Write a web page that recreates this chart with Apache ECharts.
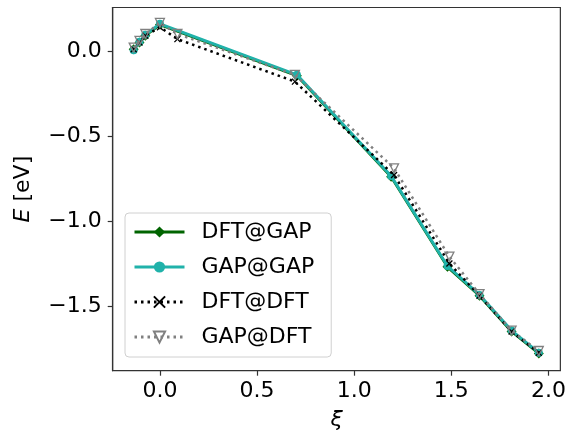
<!DOCTYPE html>
<html>
<head>
<meta charset="utf-8">
<script src="https://cdn.jsdelivr.net/npm/echarts@6/dist/echarts.min.js"></script>
<style>html,body{margin:0;padding:0;background:#fff}#c{width:569px;height:437px}</style>
</head>
<body>
<div id="c"></div>
<script>
const seriesNames = ['DFT@GAP', 'GAP@GAP', 'DFT@DFT', 'GAP@DFT'];
const xGAP = [-0.135, -0.105, -0.075, 0.0, 0.705, 1.19, 1.48, 1.645, 1.81, 1.95];
const yDFTatGAP = [0.01, 0.05, 0.09, 0.155, -0.145, -0.74, -1.27, -1.44, -1.65, -1.78];
const yGAPatGAP = [0.005, 0.055, 0.095, 0.16, -0.14, -0.735, -1.265, -1.435, -1.645, -1.775];
const xDFT = [-0.135, -0.105, -0.075, 0.0, 0.09, 0.695, 1.205, 1.49, 1.645, 1.81, 1.95];
const yDFTatDFT = [0.01, 0.05, 0.09, 0.14, 0.07, -0.18, -0.73, -1.25, -1.44, -1.65, -1.775];
const yGAPatDFT = [0.02, 0.06, 0.10, 0.165, 0.10, -0.14, -0.69, -1.21, -1.43, -1.645, -1.765];
const xTicks = [0, 0.5, 1.0, 1.5, 2.0];
const yTicks = [-1.5, -1.0, -0.5, 0.0];

const zip = (xs, ys) => xs.map((x, i) => [x, ys[i]]);
const fmt = v => (v < 0 ? '\u2212' : '') + Math.abs(v).toFixed(1);
const font = 'DejaVu Sans';
const xPath = 'path://M0,0L10,10M10,0L0,10';

const chart = echarts.init(document.getElementById('c'), null, {renderer: 'canvas'});
chart.setOption({
  animation: false,
  backgroundColor: '#fff',
  grid: {left: 112.7, right: 8, top: 7.5, bottom: 66.3, show: true, borderColor: '#333', borderWidth: 1.2, backgroundColor: 'transparent'},
  xAxis: {
    type: 'value', min: -0.243, max: 2.061,
    name: '\u03be', nameLocation: 'middle', nameGap: 39,
    nameTextStyle: {fontFamily: font, fontSize: 22, fontStyle: 'italic', color: '#000'},
    axisLine: {show: true, onZero: false, lineStyle: {color: '#333', width: 1.2}},
    axisTick: {show: true, length: 5, customValues: xTicks, lineStyle: {color: '#333', width: 1.2}},
    axisLabel: {customValues: xTicks, formatter: fmt, fontFamily: font, fontSize: 22, color: '#000', margin: 10},
    splitLine: {show: false}
  },
  yAxis: {
    type: 'value', min: -1.881, max: 0.256,
    name: '{i|E} [eV]', nameLocation: 'middle', nameGap: 78, nameRotate: 90,
    nameTextStyle: {fontFamily: font, fontSize: 22, color: '#000', rich: {i: {fontFamily: font, fontSize: 22, fontStyle: 'italic', color: '#000'}}},
    axisLine: {show: true, onZero: false, lineStyle: {color: '#333', width: 1.2}},
    axisTick: {show: true, length: 5, customValues: yTicks, lineStyle: {color: '#333', width: 1.2}},
    axisLabel: {customValues: yTicks, formatter: fmt, fontFamily: font, fontSize: 22, color: '#000', margin: 11},
    splitLine: {show: false}
  },
  legend: {
    orient: 'vertical', left: 125, top: 213,
    itemWidth: 50, itemHeight: 14, itemGap: 13,
    padding: [8, 17, 9, 8],
    borderColor: '#d0d0d0', borderWidth: 1, borderRadius: 4,
    backgroundColor: 'rgba(255,255,255,0.85)',
    textStyle: {fontFamily: font, fontSize: 22, lineHeight: 22, color: '#000', padding: [0, 0, 0, 12]},
    data: [
      {name: seriesNames[0], lineStyle: {width: 3}},
      {name: seriesNames[1], lineStyle: {width: 3}},
      {name: seriesNames[2], lineStyle: {width: 3}},
      {name: seriesNames[3], lineStyle: {width: 3}}
    ]
  },
  series: [
    {
      name: seriesNames[0], type: 'line', data: zip(xGAP, yDFTatGAP), z: 2,
      symbol: 'diamond', symbolSize: 10,
      lineStyle: {color: '#006400', width: 2.8},
      itemStyle: {color: '#006400'}
    },
    {
      name: seriesNames[1], type: 'line', data: zip(xGAP, yGAPatGAP), z: 3,
      symbol: 'circle', symbolSize: 8,
      lineStyle: {color: '#20b2aa', width: 3},
      itemStyle: {color: '#20b2aa'}
    },
    {
      name: seriesNames[2], type: 'line', data: zip(xDFT, yDFTatDFT), z: 4,
      symbol: xPath, symbolSize: 6,
      lineStyle: {color: '#000', width: 2.5, type: [2.5, 4], cap: 'butt'},
      itemStyle: {color: 'none', borderColor: '#000', borderWidth: 1.3}
    },
    {
      name: seriesNames[3], type: 'line', data: zip(xDFT, yGAPatDFT), z: 5,
      symbol: 'triangle', symbolRotate: 180, symbolSize: 9,
      lineStyle: {color: '#808080', width: 2.5, type: [2.5, 4], cap: 'butt'},
      itemStyle: {color: 'rgba(255,255,255,0)', borderColor: '#808080', borderWidth: 1.3}
    }
  ]
});
</script>
</body>
</html>
